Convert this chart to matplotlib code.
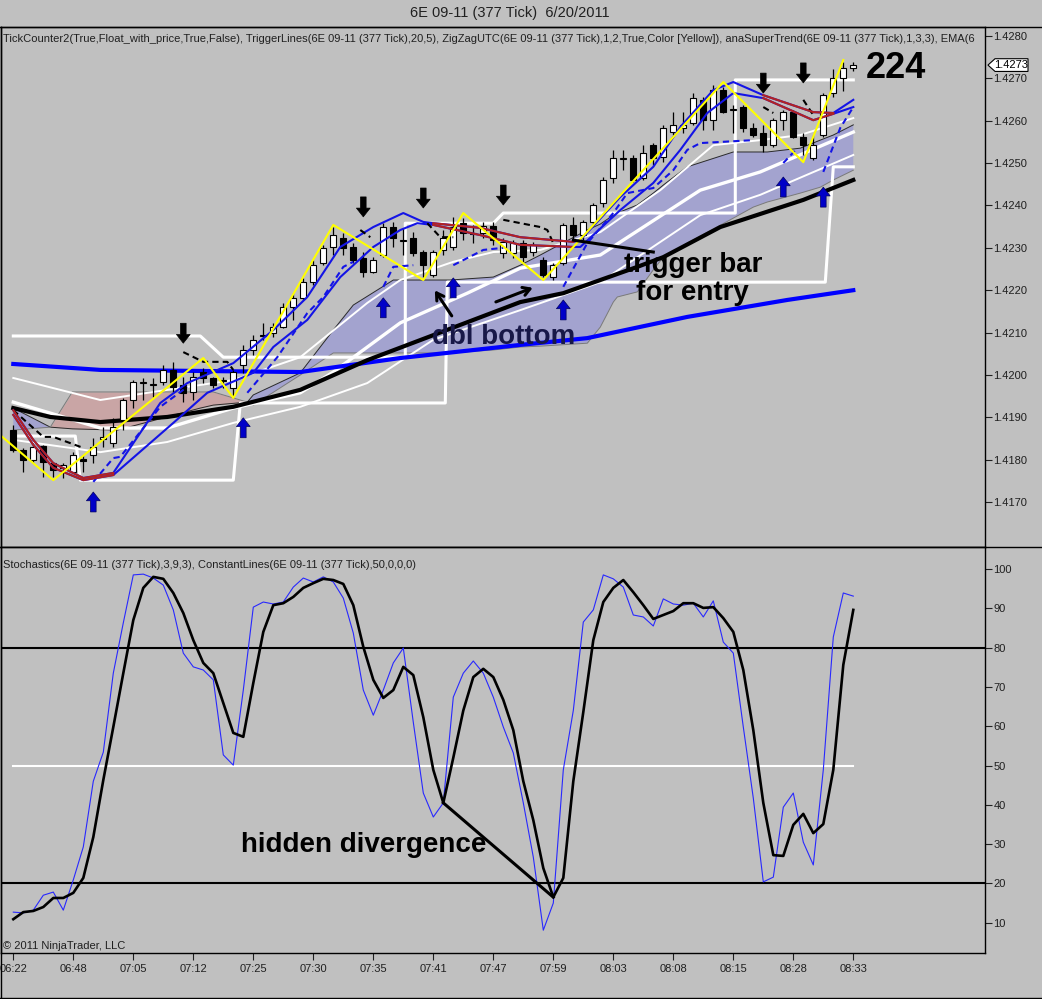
import numpy as np
import matplotlib
matplotlib.use("Agg")
import matplotlib.pyplot as plt
import matplotlib.transforms as mtransforms
from matplotlib.patches import Polygon
from matplotlib.lines import Line2D

plt.rcParams['font.family'] = ['Liberation Sans', 'DejaVu Sans']

# ---------------- data : price panel ----------------
bar_open = [1.41870, 1.41823, 1.41800, 1.41833, 1.41792, 1.41781, 1.41771, 1.41802, 1.41811, 1.41849,
            1.41840, 1.41894, 1.41941, 1.41981, 1.41976, 1.41983, 1.42012, 1.41976, 1.41960, 1.42007,
            1.41993, 1.41986, 1.41969, 1.42024, 1.42059, 1.42092, 1.42099, 1.42113, 1.42160, 1.42182,
            1.42219, 1.42264, 1.42302, 1.42323, 1.42302, 1.42276, 1.42243, 1.42283, 1.42349, 1.42316,
            1.42323, 1.42290, 1.42236, 1.42295, 1.42302, 1.42358, 1.42333, 1.42335, 1.42351, 1.42288,
            1.42288, 1.42311, 1.42290, 1.42271, 1.42231, 1.42264, 1.42354, 1.42330, 1.42361, 1.42406,
            1.42465, 1.42510, 1.42512, 1.42465, 1.42542, 1.42514, 1.42573, 1.42583, 1.42594, 1.42649,
            1.42601, 1.42672, 1.42625, 1.42632, 1.42583, 1.42571, 1.42542, 1.42601, 1.42620, 1.42561,
            1.42512, 1.42566, 1.42665, 1.42700, 1.42724]
bar_high = [1.41882, 1.41828, 1.41840, 1.41835, 1.41795, 1.41792, 1.41818, 1.41811, 1.41851, 1.41877,
            1.41899, 1.41946, 1.41988, 1.41993, 1.41993, 1.42024, 1.42031, 1.41995, 1.42007, 1.42017,
            1.41995, 1.41995, 1.42012, 1.42071, 1.42094, 1.42123, 1.42123, 1.42170, 1.42193, 1.42229,
            1.42271, 1.42307, 1.42349, 1.42335, 1.42311, 1.42290, 1.42278, 1.42358, 1.42361, 1.42347,
            1.42337, 1.42295, 1.42295, 1.42342, 1.42373, 1.42370, 1.42354, 1.42361, 1.42361, 1.42323,
            1.42318, 1.42318, 1.42314, 1.42278, 1.42264, 1.42358, 1.42373, 1.42366, 1.42406, 1.42467,
            1.42531, 1.42531, 1.42519, 1.42542, 1.42547, 1.42590, 1.42620, 1.42620, 1.42665, 1.42656,
            1.42684, 1.42679, 1.42637, 1.42637, 1.42594, 1.42590, 1.42606, 1.42625, 1.42625, 1.42571,
            1.42566, 1.42665, 1.42722, 1.42738, 1.42738]
bar_low = [1.41818, 1.41771, 1.41792, 1.41759, 1.41759, 1.41757, 1.41769, 1.41771, 1.41792, 1.41830,
           1.41830, 1.41870, 1.41922, 1.41941, 1.41948, 1.41976, 1.41960, 1.41936, 1.41941, 1.41981,
           1.41969, 1.41969, 1.41948, 1.42005, 1.42047, 1.42083, 1.42090, 1.42111, 1.42130, 1.42177,
           1.42212, 1.42259, 1.42283, 1.42283, 1.42264, 1.42231, 1.42241, 1.42278, 1.42302, 1.42283,
           1.42281, 1.42231, 1.42231, 1.42283, 1.42295, 1.42318, 1.42311, 1.42323, 1.42307, 1.42276,
           1.42276, 1.42267, 1.42281, 1.42231, 1.42224, 1.42259, 1.42318, 1.42318, 1.42354, 1.42396,
           1.42453, 1.42483, 1.42455, 1.42460, 1.42495, 1.42502, 1.42566, 1.42571, 1.42590, 1.42578,
           1.42578, 1.42618, 1.42571, 1.42573, 1.42561, 1.42526, 1.42538, 1.42578, 1.42559, 1.42519,
           1.42507, 1.42561, 1.42656, 1.42670, 1.42717]
bar_close = [1.41823, 1.41800, 1.41830, 1.41795, 1.41776, 1.41788, 1.41811, 1.41797, 1.41830, 1.41854,
             1.41877, 1.41941, 1.41983, 1.41983, 1.41978, 1.42012, 1.41972, 1.41958, 1.41995, 1.41993,
             1.41976, 1.41988, 1.42007, 1.42059, 1.42083, 1.42094, 1.42113, 1.42160, 1.42182, 1.42219,
             1.42259, 1.42300, 1.42330, 1.42300, 1.42271, 1.42243, 1.42271, 1.42349, 1.42323, 1.42318,
             1.42288, 1.42259, 1.42290, 1.42323, 1.42349, 1.42335, 1.42335, 1.42351, 1.42318, 1.42314,
             1.42311, 1.42278, 1.42307, 1.42236, 1.42259, 1.42354, 1.42330, 1.42361, 1.42401, 1.42460,
             1.42512, 1.42512, 1.42460, 1.42524, 1.42512, 1.42583, 1.42590, 1.42590, 1.42653, 1.42601,
             1.42672, 1.42620, 1.42627, 1.42583, 1.42566, 1.42542, 1.42601, 1.42620, 1.42561, 1.42542,
             1.42542, 1.42660, 1.42700, 1.42724, 1.42731]

time_labels = ['06:22', '06:48', '07:05', '07:12', '07:25', '07:30', '07:35', '07:41',
               '07:47', '07:59', '08:03', '08:08', '08:15', '08:28', '08:33']

# slow EMA (thick blue) and mid EMA (thick black)
ema_blue_x = [0, 8.7, 28.7, 38.7, 50.7, 57.4, 67.4, 77.4, 84]
ema_blue_y = [1.42026, 1.42012, 1.42007, 1.42040, 1.42071, 1.42087, 1.42137, 1.42177, 1.42200]
ema_black_x = [0, 3.7, 8.7, 15.4, 22, 28.7, 35.4, 42, 50.7, 55, 62.4, 65, 70.7, 79, 84]
ema_black_y = [1.41922, 1.41901, 1.41889, 1.41901, 1.41925, 1.41965, 1.42035, 1.42094, 1.42172,
               1.42193, 1.42255, 1.42278, 1.42349, 1.42413, 1.42460]

# supertrend cloud
cloud_x = [0, 3.7, 5.9, 10.4, 18.7, 20, 23.4, 24, 28.7, 32, 34, 38, 42.7, 43.7, 48, 50.7, 52.7,
           57.4, 58.7, 60, 60.4, 62.4, 64, 65, 67.4, 72, 74, 75.4, 78.7, 80.7, 82, 84]
cloud_a = [1.41922, 1.41877, 1.41873, 1.41870, 1.41922, 1.41929, 1.41936, 1.41953, 1.42005, 1.42106,
           1.42165, 1.42224, 1.42224, 1.42224, 1.42231, 1.42259, 1.42283, 1.42342, 1.42356, 1.42377,
           1.42382, 1.42401, 1.42429, 1.42448, 1.42491, 1.42526, 1.42526, 1.42526, 1.42535, 1.42554,
           1.42566, 1.42590]
cloud_b = [1.41870, 1.41877, 1.41960, 1.41960, 1.41960, 1.41960, 1.41936, 1.41929, 1.42000, 1.42052,
           1.42052, 1.42052, 1.42052, 1.42052, 1.42059, 1.42066, 1.42068, 1.42075, 1.42113, 1.42172,
           1.42184, 1.42196, 1.42248, 1.42278, 1.42311, 1.42370, 1.42396, 1.42408, 1.42429, 1.42443,
           1.42460, 1.42483]

# white band lines
band_up_x = [0, 8.7, 15.4, 22, 28.7, 35.4, 38.7, 44, 48, 52.7, 58.7, 64.7, 70, 74.7, 78.7, 84]
band_up_y = [1.41993, 1.41941, 1.41965, 1.41988, 1.42042, 1.42170, 1.42224, 1.42267, 1.42290, 1.42295,
             1.42337, 1.42436, 1.42542, 1.42554, 1.42566, 1.42606]
band_mid_x = [0, 8.7, 15.4, 22, 28.7, 32, 38.7, 45.4, 50.7, 58.7, 68.7, 74.7, 84]
band_mid_y = [1.41936, 1.41875, 1.41875, 1.41922, 1.41958, 1.42007, 1.42123, 1.42193, 1.42252, 1.42283,
              1.42436, 1.42479, 1.42573]
band_lo_x = [0, 8.7, 15.4, 22, 28.7, 35.4, 42, 50.7, 58.7, 68.7, 74.7, 84]
band_lo_y = [1.41847, 1.41818, 1.41842, 1.41887, 1.41925, 1.41981, 1.42083, 1.42153, 1.42219, 1.42377,
             1.42425, 1.42519]

# trigger step lines (white)
step_hi_x = [0, 18.7, 21, 39.2, 39.2, 48, 49, 72.2, 72.2, 84]
step_hi_y = [1.42092, 1.42092, 1.42042, 1.42042, 1.42358, 1.42358, 1.42382, 1.42382, 1.42696, 1.42696]
step_lo_x = [0, 6.2, 6.7, 22, 22.7, 43.2, 43.4, 81.2, 82, 84]
step_lo_y = [1.41856, 1.41856, 1.41752, 1.41752, 1.41934, 1.41934, 1.42219, 1.42219, 1.42491, 1.42491]

# zigzag
zz_x = [-1.3, 4, 19, 22, 32, 41, 45, 53, 71, 79, 83]
zz_y = [1.41858, 1.41752, 1.42040, 1.41946, 1.42354, 1.42224, 1.42382, 1.42224, 1.42691, 1.42502, 1.42743]

# trend lines (blue up / red down)
fast_x = [0, 2, 4, 7, 10, 14.7, 17.4, 22, 26, 29.4, 32.7, 36, 39, 41, 42, 46.7, 50.7, 56, 56.7,
          60.7, 64, 66.7, 70, 72, 75, 80, 82, 84]
fast_y = [1.41917, 1.41847, 1.41792, 1.41757, 1.41769, 1.41934, 1.41981, 1.42028, 1.42106, 1.42184,
          1.42302, 1.42349, 1.42382, 1.42361, 1.42358, 1.42347, 1.42325, 1.42314, 1.42318, 1.42420,
          1.42491, 1.42585, 1.42672, 1.42691, 1.42660, 1.42620, 1.42618, 1.42649]
slow_x = [0, 2, 4, 7, 10, 16, 19.4, 24, 26, 29.4, 32.7, 36, 38.7, 40.4, 42, 46.7, 50.7, 56, 56.7,
          60.7, 64, 66.7, 69.4, 72, 75, 80, 82, 84]
slow_y = [1.41906, 1.41835, 1.41781, 1.41752, 1.41764, 1.41887, 1.41958, 1.42005, 1.42066, 1.42130,
          1.42231, 1.42302, 1.42342, 1.42358, 1.42354, 1.42330, 1.42307, 1.42302, 1.42302, 1.42389,
          1.42453, 1.42531, 1.42618, 1.42665, 1.42653, 1.42601, 1.42616, 1.42632]
red_ranges = [(0, 10), (42, 56), (75, 82)]

# dashed blue trigger segments
dash_blue = [
    ([8, 10, 10.7, 14.7, 17.4], [1.41748, 1.41804, 1.41807, 1.41925, 1.41972]),
    ([23.4, 26.4, 29.4, 31, 33, 34], [1.41958, 1.42042, 1.42146, 1.42184, 1.42255, 1.42267]),
    ([37, 38, 40], [1.42208, 1.42255, 1.42259]),
    ([44, 47, 49], [1.42259, 1.42295, 1.42300]),
    ([55, 57.4, 60, 61.4, 64, 66, 67.4, 68.7, 74],
     [1.42208, 1.42311, 1.42382, 1.42429, 1.42441, 1.42483, 1.42531, 1.42547, 1.42554]),
    ([77, 78.4], [1.42500, 1.42535]),
    ([81, 82.7, 84], [1.42479, 1.42583, 1.42632]),
]
# dashed black segments
dash_black = [
    ([0, 3, 4, 7], [1.41917, 1.41854, 1.41854, 1.41828]),
    ([17, 19, 21.4, 22], [1.42054, 1.42031, 1.42031, 1.42012]),
    ([34.7, 35.7], [1.42342, 1.42325]),
    ([41.4, 42.7, 44], [1.42358, 1.42325, 1.42325]),
    ([49, 52.7, 53.4, 54], [1.42366, 1.42349, 1.42342, 1.42311]),
    ([75, 76], [1.42632, 1.42618]),
    ([79, 80], [1.42649, 1.42613]),
]

# signal arrows (tip positions)
down_idx = [17, 35, 41, 49, 75, 79]
down_tip = [1.42075, 1.42373, 1.42394, 1.42401, 1.42665, 1.42689]
up_idx = [8, 23, 37, 44, 55, 77, 81]
up_tip = [1.41724, 1.41899, 1.42182, 1.42229, 1.42177, 1.42467, 1.42443]

# hand drawn notes
trigger_line_x = [56, 64]
trigger_line_y = [1.42318, 1.42290]
dbl_arrows = [((44, 1.42134), (42, 1.42205)), ((48, 1.42170), (52.2, 1.42208))]

# ---------------- data : stochastics ----------------
stoch_k = [12.7, 12.5, 13.2, 17.0, 17.8, 13.2, 20.9, 29.3, 46.0, 53.4,
           73.5, 86.3, 98.5, 98.7, 97.7, 95.9, 89.6, 78.6, 75.1, 74.3,
           71.8, 52.7, 50.1, 69.2, 90.3, 91.6, 91.1, 91.6, 95.4, 97.7,
           96.7, 98.0, 96.7, 92.6, 83.7, 69.2, 62.8, 69.2, 76.1, 79.9,
           61.0, 43.0, 36.9, 40.5, 67.4, 73.5, 76.6, 73.5, 67.4, 59.8,
           53.2, 40.5, 26.7, 8.1, 15.0, 48.9, 64.0, 86.5, 89.6, 98.5,
           97.5, 95.4, 88.3, 87.8, 85.5, 92.4, 91.1, 90.8, 91.3, 87.8,
           91.9, 81.4, 78.6, 59.8, 41.7, 20.4, 21.6, 39.4, 43.0, 30.5,
           24.7, 48.9, 82.7, 93.9, 93.1]
stoch_d = [10.9, 12.7, 13.0, 14.0, 16.3, 16.3, 17.6, 21.4, 31.8, 46.3,
           59.8, 73.5, 87.0, 95.2, 98.0, 97.5, 93.9, 88.8, 81.9, 76.1,
           73.5, 65.9, 58.3, 57.3, 71.0, 84.0, 90.8, 91.3, 92.9, 95.2,
           96.4, 97.5, 97.2, 96.2, 90.8, 80.2, 71.8, 67.2, 69.2, 75.1,
           73.0, 62.3, 48.9, 40.5, 52.0, 64.0, 72.5, 74.6, 72.5, 66.7,
           59.0, 46.0, 36.1, 23.9, 16.5, 21.4, 46.0, 63.6, 81.9, 91.6,
           95.2, 97.2, 94.1, 90.8, 87.3, 88.3, 89.3, 91.3, 91.3, 90.1,
           90.3, 87.5, 84.0, 74.3, 59.0, 40.5, 27.2, 27.0, 34.9, 37.7,
           32.8, 35.1, 48.9, 75.6, 89.6]
stoch_levels = [80, 20]
const_level = 50
divergence_idx = [43, 54]

# ---------------- figure ----------------
bg = '#c0c0c0'
W, H = 1042, 999
fig = plt.figure(figsize=(W / 100, H / 100), dpi=100, facecolor=bg)
ax1 = fig.add_axes([1 / W, 452 / H, 984 / W, 520 / H])
ax2 = fig.add_axes([1 / W, 46 / H, 984 / W, 406 / H])
for ax in (ax1, ax2):
    ax.set_facecolor(bg)
    for s in ax.spines.values():
        s.set_color('black')
        s.set_linewidth(1)
    ax.set_xlim(-1.23, 97.17)

idx = np.arange(len(bar_close))
o = np.array(bar_open)
c = np.array(bar_close)

# cloud
ca = np.array(cloud_a)
cb = np.array(cloud_b)
ax1.fill_between(cloud_x, ca, cb, where=ca >= cb, interpolate=True, color='#a3a3cf', lw=0, zorder=1)
ax1.fill_between(cloud_x, ca, cb, where=ca < cb, interpolate=True, color='#c9a5a5', lw=0, zorder=1)
ax1.plot(cloud_x, cloud_a, color='#2a2a2a', lw=0.7, zorder=1.5)
ax1.plot(cloud_x, cloud_b, color='#7a7a7a', lw=0.7, zorder=1.5)

# bands
ax1.plot(band_up_x, band_up_y, color='white', lw=1.4, zorder=2)
ax1.plot(band_mid_x, band_mid_y, color='white', lw=2.4, zorder=2)
ax1.plot(band_lo_x, band_lo_y, color='white', lw=1.4, zorder=2)

# step lines
ax1.plot(step_hi_x, step_hi_y, color='white', lw=2.2, zorder=2.5)
ax1.plot(step_lo_x, step_lo_y, color='white', lw=2.2, zorder=2.5)

# EMAs
ax1.plot(ema_blue_x, ema_blue_y, color='#0000ff', lw=3.0, zorder=3)
ax1.plot(ema_black_x, ema_black_y, color='black', lw=3.0, zorder=3)

# candles
ax1.vlines(idx, bar_low, bar_high, color='black', lw=0.9, zorder=4)
body_col = np.where(c >= o, 'white', 'black')
ax1.bar(idx, np.abs(c - o), bottom=np.minimum(o, c), width=0.6, color=body_col,
        edgecolor='black', linewidth=0.8, zorder=4.5)

# trend lines
for lx, ly in ((fast_x, fast_y), (slow_x, slow_y)):
    lx = np.array(lx)
    ly = np.array(ly)
    ax1.plot(lx, ly, color='#1414e6', lw=1.5, zorder=5)
    for a, b in red_ranges:
        m = (lx >= a) & (lx <= b)
        ax1.plot(lx[m], ly[m], color='#b22222', lw=1.5, zorder=5.1)

for sx, sy in dash_blue:
    ax1.plot(sx, sy, color='#1414e6', lw=1.5, ls=(0, (3, 2)), zorder=5)
for sx, sy in dash_black:
    ax1.plot(sx, sy, color='black', lw=1.5, ls=(0, (3, 2)), zorder=5)

ax1.plot(zz_x, zz_y, color='#ffff00', lw=1.5, zorder=6)

# arrows
alen = 0.00047
astyle = 'simple,head_length=0.7,head_width=1.1,tail_width=0.45'
for i, t in zip(down_idx, down_tip):
    ax1.annotate('', xy=(i, t), xytext=(i, t + alen),
                 arrowprops=dict(arrowstyle=astyle, fc='black', ec='black', lw=0.5,
                                 mutation_scale=9, shrinkA=0, shrinkB=0), zorder=7)
for i, t in zip(up_idx, up_tip):
    ax1.annotate('', xy=(i, t), xytext=(i, t - alen),
                 arrowprops=dict(arrowstyle=astyle, fc='#0000c8', ec='#000060', lw=0.5,
                                 mutation_scale=9, shrinkA=0, shrinkB=0), zorder=7)

# annotations
ax1.plot(trigger_line_x, trigger_line_y, color='black', lw=2.2, zorder=7)
for tail, head in dbl_arrows:
    ax1.annotate('', xy=head, xytext=tail,
                 arrowprops=dict(arrowstyle='->,head_length=0.5,head_width=0.3', color='black', lw=2.2),
                 zorder=7)
ax1.text(68.0, 1.42243, 'trigger bar', fontsize=20, fontweight='bold', ha='center', va='baseline', zorder=8)
ax1.text(67.9, 1.42177, 'for entry', fontsize=20, fontweight='bold', ha='center', va='baseline', zorder=8)
ax1.text(49.05, 1.42073, 'dbl bottom', fontsize=20, fontweight='bold', color='#181848',
         ha='center', va='baseline', zorder=8)
ax1.text(85.2, 1.42700, '224', fontsize=26, fontweight='bold', ha='left', va='baseline', zorder=8)

ax1.text(2 / 984, 1 - 12 / 520, 'TickCounter2(True,Float_with_price,True,False), '
         'TriggerLines(6E 09-11 (377 Tick),20,5), ZigZagUTC(6E 09-11 (377 Tick),1,2,True,Color [Yellow]), '
         'anaSuperTrend(6E 09-11 (377 Tick),1,3,3), EMA(6',
         transform=ax1.transAxes, fontsize=8.05, ha='left', va='center', color='#202020')

# price axis
ax1.set_ylim(1.415943, 1.428208)
pticks = np.arange(1.4170, 1.42805, 0.001)
ax1.set_yticks(pticks)
ax1.set_yticklabels([f'{v:.4f}' for v in pticks])
ax1.yaxis.tick_right()
ax1.tick_params(axis='y', direction='out', length=5, width=0.8, labelsize=8, pad=1, colors='#202020')
ax1.set_xticks([])

# last price marker
trans = mtransforms.blended_transform_factory(ax1.transAxes, ax1.transData)
last = bar_close[-1]
hh = 0.00015
ax1.add_patch(Polygon([[1.003, last], [1.0102, last + hh], [1.0437, last + hh],
                       [1.0437, last - hh], [1.0102, last - hh]], closed=True,
                      transform=trans, fc='white', ec='black', lw=0.8, clip_on=False, zorder=9))
ax1.text(1.027, last, f'{last:.4f}', transform=trans, fontsize=8, ha='center', va='center',
         clip_on=False, zorder=10)

# ---------------- stochastics panel ----------------
ax2.plot([idx[0], idx[-1]], [const_level, const_level], color='white', lw=1.5, zorder=2)
for lv in stoch_levels:
    ax2.axhline(lv, color='black', lw=1.5, zorder=2)
ax2.plot(idx, stoch_k, color='#2828ff', lw=0.8, zorder=3)
ax2.plot(idx, stoch_d, color='black', lw=1.9, zorder=4)
ax2.plot(divergence_idx, [stoch_d[i] for i in divergence_idx], color='black', lw=2.2, zorder=5)
ax2.text(35.0, 28.0, 'hidden divergence', fontsize=20, fontweight='bold', ha='center',
         va='baseline', zorder=6)
ax2.text(2 / 984, 1 - 18 / 406, 'Stochastics(6E 09-11 (377 Tick),3,9,3), '
         'ConstantLines(6E 09-11 (377 Tick),50,0,0,0)',
         transform=ax2.transAxes, fontsize=8.05, ha='left', va='center', color='#202020')
ax2.text(2 / 984, 1 - 399 / 406, '\u00a9 2011 NinjaTrader, LLC', transform=ax2.transAxes,
         fontsize=8.05, ha='left', va='center', color='#202020')

ax2.set_ylim(2.3, 105.6)
ax2.set_yticks(np.arange(10, 101, 10))
ax2.yaxis.tick_right()
ax2.tick_params(axis='y', direction='out', length=5, width=0.8, labelsize=8, pad=1, colors='#202020')
ax2.set_xticks(idx[::6])
ax2.set_xticklabels(time_labels)
ax2.tick_params(axis='x', direction='out', length=5, width=0.8, labelsize=8, pad=3, colors='#202020')

# frame lines and title
fig.add_artist(Line2D([0, 1], [972 / H, 972 / H], color='black', lw=1))
fig.add_artist(Line2D([0, 1], [452 / H, 452 / H], color='black', lw=1))
fig.add_artist(Line2D([0, 1], [1.5 / H, 1.5 / H], color='black', lw=1))
fig.add_artist(Line2D([0.8 / W, 0.8 / W], [0, 972 / H], color='black', lw=1))
fig.text(510 / W, 1 - 13 / H, '6E 09-11 (377 Tick)  6/20/2011', fontsize=10.5,
         ha='center', va='center', color='#202020')

fig.savefig('out.png', dpi=100, facecolor=bg)
